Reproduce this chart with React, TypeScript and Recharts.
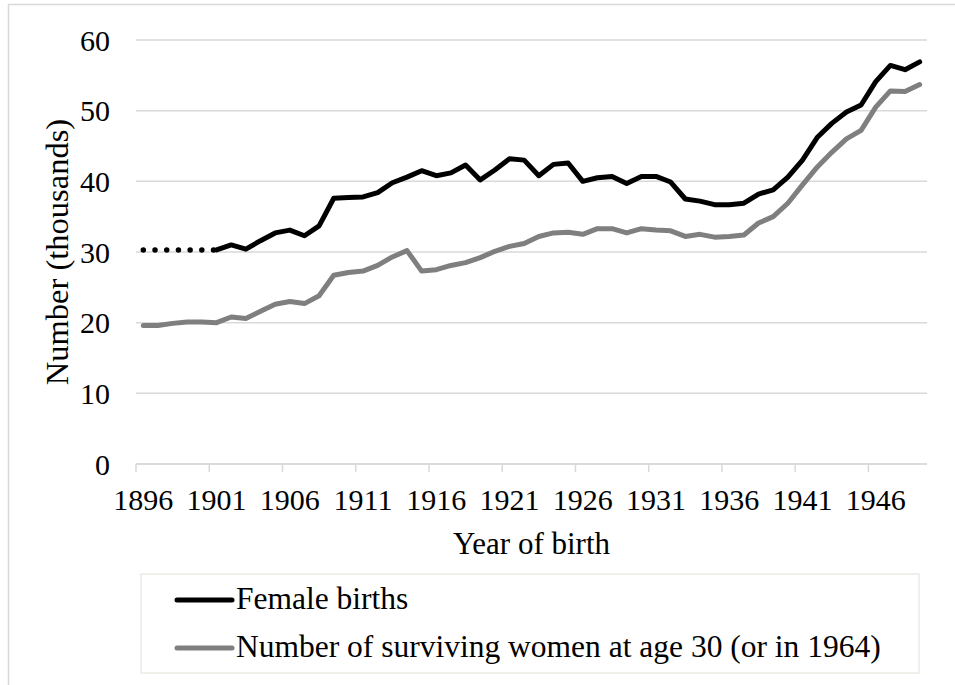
import { LineChart, Line, XAxis, YAxis, CartesianGrid } from "recharts";

const years = [
  1896, 1897, 1898, 1899, 1900, 1901, 1902, 1903, 1904, 1905, 1906, 1907,
  1908, 1909, 1910, 1911, 1912, 1913, 1914, 1915, 1916, 1917, 1918, 1919,
  1920, 1921, 1922, 1923, 1924, 1925, 1926, 1927, 1928, 1929, 1930, 1931,
  1932, 1933, 1934, 1935, 1936, 1937, 1938, 1939, 1940, 1941, 1942, 1943,
  1944, 1945, 1946, 1947, 1948, 1949,
];

// 1896-1901 estimated (dotted)
const estimatedBirths = [30.3, 30.3, 30.3, 30.3, 30.3, 30.3];

// 1901-1949
const femaleBirths = [
  30.3, 31.0, 30.4, 31.6, 32.7, 33.1, 32.3, 33.7, 37.6, 37.7, 37.8, 38.4,
  39.8, 40.6, 41.5, 40.8, 41.2, 42.3, 40.2, 41.6, 43.2, 43.0, 40.8, 42.4,
  42.6, 40.0, 40.5, 40.7, 39.7, 40.7, 40.7, 39.9, 37.5, 37.2, 36.7, 36.7,
  36.9, 38.2, 38.8, 40.6, 43.0, 46.2, 48.2, 49.8, 50.8, 54.1, 56.4, 55.8,
  56.9,
];

// 1896-1949
const survivingWomen = [
  19.6, 19.6, 19.9, 20.1, 20.1, 20.0, 20.8, 20.6, 21.6, 22.6, 23.0, 22.7,
  23.8, 26.7, 27.1, 27.3, 28.1, 29.3, 30.2, 27.3, 27.5, 28.1, 28.5, 29.2,
  30.1, 30.8, 31.2, 32.2, 32.7, 32.8, 32.5, 33.3, 33.3, 32.7, 33.3, 33.1,
  33.0, 32.2, 32.5, 32.1, 32.2, 32.4, 34.1, 35.0, 36.9, 39.5, 42.0, 44.1,
  46.0, 47.2, 50.5, 52.8, 52.7, 53.7,
];

const xTicks = [1896, 1901, 1906, 1911, 1916, 1921, 1926, 1931, 1936, 1941, 1946];
const yTicks = [0, 10, 20, 30, 40, 50, 60];

const series = [
  { key: "births", name: "Female births", color: "#000000" },
  {
    key: "surviving",
    name: "Number of surviving women at age 30 (or in 1964)",
    color: "#7f7f7f",
  },
];

const data = years.map((year, i) => ({
  year,
  estimated: i < estimatedBirths.length ? estimatedBirths[i] : null,
  births: i >= 5 ? femaleBirths[i - 5] : null,
  surviving: survivingWomen[i],
}));

const W = 955;
const H = 685;
const FONT = "Liberation Serif";
const margin = { top: 40, right: 28, left: -24, bottom: 121 };
const Y_AXIS_W = 160;
const plotWidth = W - margin.left - Y_AXIS_W - margin.right;
const halfStep = plotWidth / years.length / 2;
const GRID = "#d9d9d9";

// tick mark sits on the category boundary, label in the middle of the category
function XTick(props: any) {
  const { x, y, payload } = props;
  return (
    <g>
      <line
        x1={x - halfStep}
        x2={x - halfStep}
        y1={y - 8}
        y2={y}
        stroke={GRID}
        strokeWidth={1.5}
      />
      <text
        x={x}
        y={y + 38}
        textAnchor="middle"
        fill="#000"
        fontSize={30}
        fontFamily={FONT}
      >
        {payload.value}
      </text>
    </g>
  );
}

export default function App() {
  return (
    <div
      style={{
        position: "absolute",
        left: 0,
        top: 0,
        width: W,
        height: H,
        background: "#fff",
        fontFamily: FONT,
      }}
    >
      <LineChart width={W} height={H} data={data} margin={margin}>
        <CartesianGrid vertical={false} stroke={GRID} strokeWidth={1.5} />
        <XAxis
          dataKey="year"
          type="number"
          domain={[1895.5, 1949.5]}
          ticks={xTicks}
          interval={0}
          height={100}
          tickSize={8}
          tickMargin={0}
          tickLine={false}
          axisLine={{ stroke: GRID, strokeWidth: 1.5 }}
          tick={<XTick />}
          label={{
            value: "Year of birth",
            position: "insideBottom",
            offset: 10,
            fill: "#000",
            fontSize: 31,
            fontFamily: FONT,
          }}
        />
        <YAxis
          width={Y_AXIS_W}
          domain={[0, 60]}
          ticks={yTicks}
          axisLine={false}
          tickLine={false}
          tickMargin={20}
          tick={{ fill: "#000", fontSize: 30, fontFamily: FONT }}
          label={{
            value: "Number (thousands)",
            angle: -90,
            position: "center",
            fill: "#000",
            fontSize: 32.5,
            fontFamily: FONT,
          }}
        />
        <Line
          dataKey="estimated"
          stroke="#000"
          strokeWidth={5.5}
          strokeDasharray="0 11.7"
          strokeLinecap="round"
          dot={false}
          activeDot={false}
          isAnimationActive={false}
        />
        {series.map((s) => (
          <Line
            key={s.key}
            dataKey={s.key}
            name={s.name}
            stroke={s.color}
            strokeWidth={5}
            strokeLinecap="round"
            strokeLinejoin="round"
            dot={false}
            activeDot={false}
            isAnimationActive={false}
          />
        ))}
      </LineChart>
      <svg
        width={W}
        height={H}
        style={{ position: "absolute", left: 0, top: 0, pointerEvents: "none" }}
      >
        <line x1={8} x2={W} y1={4.5} y2={4.5} stroke={GRID} strokeWidth={1.5} />
        <line x1={8.5} x2={8.5} y1={4} y2={H} stroke={GRID} strokeWidth={1.5} />
        <rect
          x={141}
          y={574}
          width={778}
          height={99}
          fill="#fff"
          stroke="#ecebe3"
          strokeWidth={1.5}
        />
        {series.map((s, i) => (
          <g key={s.key}>
            <line
              x1={177}
              x2={232}
              y1={600 + i * 48}
              y2={600 + i * 48}
              stroke={s.color}
              strokeWidth={5}
              strokeLinecap="round"
            />
            <text
              x={236}
              y={609 + i * 48}
              fontSize={31.5}
              fontFamily={FONT}
              fill="#000"
            >
              {s.name}
            </text>
          </g>
        ))}
      </svg>
    </div>
  );
}
